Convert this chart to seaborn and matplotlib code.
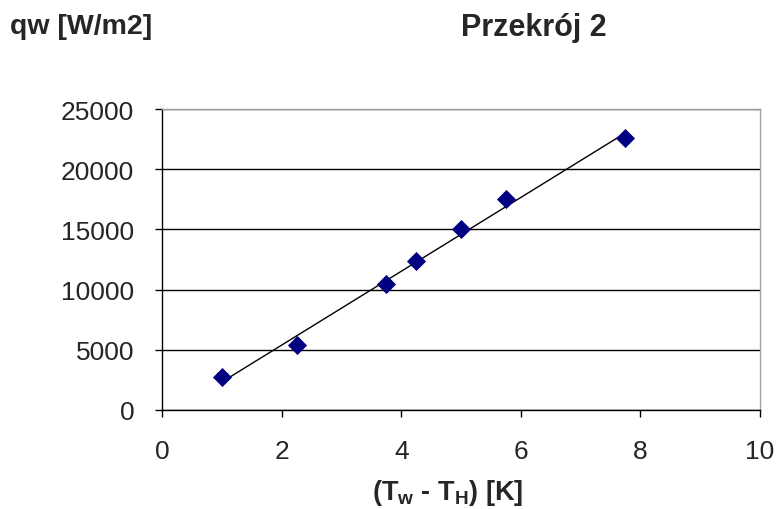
import numpy as np
import pandas as pd
import matplotlib
matplotlib.use("Agg")
import matplotlib.pyplot as plt
import seaborn as sns

# Measured heat flux vs. wall-to-fluid temperature difference
dT = [1.0, 2.25, 3.75, 4.25, 5.0, 5.75, 7.75]
qw = [2700, 5400, 10500, 12350, 15000, 17500, 22550]
x_ticks = [0, 2, 4, 6, 8, 10]
y_ticks = [0, 5000, 10000, 15000, 20000, 25000]

df = pd.DataFrame({"dT": dT, "qw": qw})

sns.set_style("white")
plt.rcParams["font.family"] = ["Liberation Sans", "DejaVu Sans"]
plt.rcParams["mathtext.fontset"] = "custom"
plt.rcParams["mathtext.rm"] = "Liberation Sans"
plt.rcParams["mathtext.bf"] = "Liberation Sans:bold"
plt.rcParams["mathtext.it"] = "Liberation Sans:italic"

fig = plt.figure(figsize=(7.79, 5.10), dpi=100)
ax = fig.add_axes([162 / 779, 99 / 510, 598 / 779, 301 / 510])

ax.set_axisbelow(True)
ax.yaxis.grid(True, color="black", lw=1.0)

# Linear trend line over the data range
sns.regplot(data=df, x="dT", y="qw", scatter=False, ci=None, truncate=True,
            color="black", line_kws={"lw": 1.0, "zorder": 2}, ax=ax)
sns.scatterplot(data=df, x="dT", y="qw", marker="D", s=95, color="#000080",
                edgecolor="#000080", linewidth=0, zorder=3, ax=ax)

ax.set_xlim(0, 10)
ax.set_ylim(0, 25000)
ax.set_xticks(x_ticks)
ax.set_yticks(y_ticks)
ax.tick_params(axis="both", labelsize=19, direction="out", length=5,
               width=1, color="black", bottom=True, left=True)
ax.tick_params(axis="x", pad=16)
ax.tick_params(axis="y", pad=15)

for side in ("left", "bottom"):
    ax.spines[side].set_color("black")
    ax.spines[side].set_linewidth(1.0)
for side in ("top", "right"):
    ax.spines[side].set_color("#a0a0a0")
    ax.spines[side].set_linewidth(1.0)

ax.set_xlabel(r"(T$_\mathbf{w}$ - T$_\mathbf{H}$) [K]", fontsize=19.5,
              fontweight="bold", va="center")
ax.xaxis.set_label_coords(0.478, -0.272)
ax.set_ylabel("qw [W/m2]", fontsize=20.5, fontweight="bold", rotation=0,
              ha="left", va="center")
ax.yaxis.set_label_coords(-0.254, 1.276)
ax.text(0.622, 1.273, "Przekrój 2", transform=ax.transAxes, fontsize=22,
        fontweight="bold", ha="center", va="center")

fig.savefig("out.png", dpi=100, facecolor="white")
